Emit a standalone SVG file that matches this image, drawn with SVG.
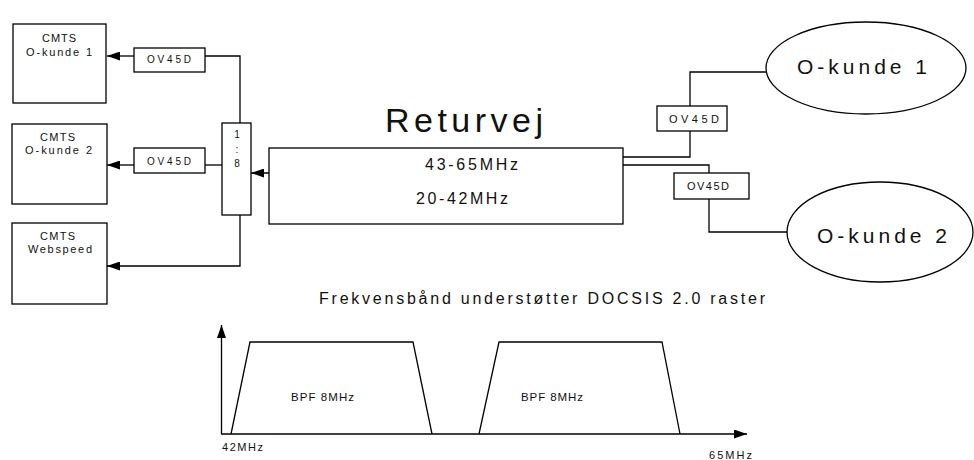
<svg xmlns="http://www.w3.org/2000/svg" width="974" height="460" viewBox="0 0 974 460">
  <style>
    .box { fill: #fff; stroke: #000; stroke-width: 1.3; }
    .wire { fill: none; stroke: #000; stroke-width: 1.3; }
    text { font-family: "Liberation Sans", Arial, sans-serif; fill: #111; }
    .s10 { font-size: 10px; }
    .s11 { font-size: 11px; }
    .s12 { font-size: 11.5px; }
    .s16 { font-size: 16px; }
    .s20 { font-size: 21px; }
    .s33 { font-size: 34px; }
  </style>
  <defs>
    <marker id="arrow" viewBox="0 0 13 9" refX="13" refY="4.5" markerWidth="13" markerHeight="9" markerUnits="userSpaceOnUse" orient="auto">
      <path d="M0,0 L13,4.5 L0,9 Z" fill="#000"/>
    </marker>
  </defs>

  <!-- connectors -->
  <g id="connectors">
    <path class="wire" d="M240,123 V56 H205"/>
    <path class="wire" d="M134,56 H107" marker-end="url(#arrow)"/>
    <path class="wire" d="M222,165 H205"/>
    <path class="wire" d="M134,165 H107" marker-end="url(#arrow)"/>
    <path class="wire" d="M240,215 V266 H107" marker-end="url(#arrow)"/>
    <path class="wire" d="M623,173 H251" marker-end="url(#arrow)"/>
    <path class="wire" d="M623,157 H690 V131"/>
    <path class="wire" d="M690,106 V72 H767"/>
    <path class="wire" d="M623,165 H709 V173"/>
    <path class="wire" d="M709,199 V232 H787"/>
  </g>

  <!-- head-end CMTS units -->
  <g id="cmts1">
    <rect class="box" x="13" y="24" width="93" height="79"/>
    <text class="s11" x="42" y="42" textLength="34" lengthAdjust="spacing">CMTS</text>
    <text class="s11" x="26" y="56" textLength="66" lengthAdjust="spacing">O-kunde 1</text>
  </g>
  <g id="cmts2">
    <rect class="box" x="12" y="124" width="95" height="80"/>
    <text class="s11" x="40" y="141" textLength="35" lengthAdjust="spacing">CMTS</text>
    <text class="s11" x="25" y="154" textLength="67" lengthAdjust="spacing">O-kunde 2</text>
  </g>
  <g id="cmts3">
    <rect class="box" x="12" y="223" width="95" height="81"/>
    <text class="s11" x="40" y="240" textLength="35" lengthAdjust="spacing">CMTS</text>
    <text class="s11" x="28" y="253" textLength="64" lengthAdjust="spacing">Webspeed</text>
  </g>

  <!-- filters -->
  <g id="ov45d-l1">
    <rect class="box" x="134" y="48" width="71" height="24"/>
    <text class="s10" x="147" y="63" textLength="44" lengthAdjust="spacing">OV45D</text>
  </g>
  <g id="ov45d-l2">
    <rect class="box" x="134" y="148" width="71" height="25"/>
    <text class="s10" x="147" y="165" textLength="44" lengthAdjust="spacing">OV45D</text>
  </g>
  <g id="ov45d-r1">
    <rect class="box" x="657" y="106" width="70" height="25"/>
    <text class="s11" x="669" y="123" textLength="50" lengthAdjust="spacing">OV45D</text>
  </g>
  <g id="ov45d-r2">
    <rect class="box" x="674" y="173" width="75" height="26"/>
    <text class="s11" x="687" y="190" textLength="42" lengthAdjust="spacing">OV45D</text>
  </g>

  <!-- 1:8 splitter -->
  <g id="splitter">
    <rect class="box" x="222" y="123" width="29" height="92"/>
    <text class="s10" x="237" y="138" text-anchor="middle">1</text>
    <text class="s10" x="237" y="153" text-anchor="middle">:</text>
    <text class="s10" x="237" y="167" text-anchor="middle">8</text>
  </g>

  <!-- return path -->
  <g id="returvej">
    <text class="s33" x="385" y="132" textLength="158" lengthAdjust="spacing">Returvej</text>
    <rect class="box" x="269" y="148" width="354" height="76" fill="none"/>
    <text class="s16" x="425" y="170" textLength="93" lengthAdjust="spacing">43-65MHz</text>
    <text class="s16" x="416" y="204" textLength="92" lengthAdjust="spacing">20-42MHz</text>
  </g>

  <!-- customers -->
  <g id="kunde1">
    <ellipse class="box" cx="866" cy="68" rx="100" ry="46"/>
    <text class="s20" x="797" y="74" textLength="130" lengthAdjust="spacing">O-kunde 1</text>
  </g>
  <g id="kunde2">
    <ellipse class="box" cx="880" cy="232" rx="93" ry="50"/>
    <text class="s20" x="817" y="243" textLength="130" lengthAdjust="spacing">O-kunde 2</text>
  </g>

  <!-- frequency plan -->
  <g id="spectrum">
    <text class="s16" x="319" y="304" textLength="446" lengthAdjust="spacing">Frekvensbånd understøtter DOCSIS 2.0 raster</text>
    <path class="wire" d="M221.5,434 V325" marker-end="url(#arrow)"/>
    <path class="wire" d="M221,434 H747" marker-end="url(#arrow)"/>
    <path class="wire" d="M231,434 L250,342 H413 L432,434"/>
    <path class="wire" d="M479,434 L499,342 H662 L680,434"/>
    <text class="s12" x="291" y="401" textLength="63" lengthAdjust="spacing">BPF 8MHz</text>
    <text class="s12" x="521" y="401" textLength="62" lengthAdjust="spacing">BPF 8MHz</text>
    <text class="s11" x="222" y="451" textLength="41" lengthAdjust="spacing">42MHz</text>
    <text class="s11" x="709" y="459" textLength="43" lengthAdjust="spacing">65MHz</text>
  </g>
</svg>
